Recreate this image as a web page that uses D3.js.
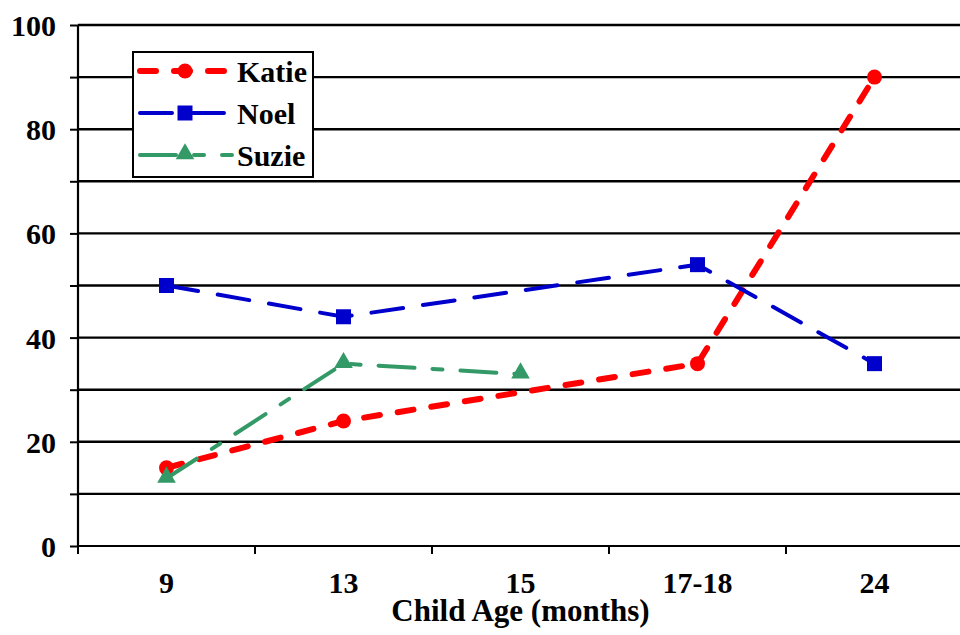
<!DOCTYPE html>
<html>
<head>
<meta charset="utf-8">
<script src="https://cdn.jsdelivr.net/npm/d3@7"></script>
<style>
  body { margin: 0; background: #fff; }
</style>
</head>
<body>
<div id="graph"></div>
<script>
var categories = ["9", "13", "15", "17-18", "24"];
var katie = [15, 24, null, 35, 90];
var noel = [50, 44, null, 54, 35];
var suzie = [13, 35, 33, null, null];
var yTicks = [0, 20, 40, 60, 80, 100];
var xTitle = "Child Age (months)";

var FONT = "'Liberation Serif'";

var series = [
  { name: "Katie", values: katie, color: "#ff0000", width: 6, dash: "16,18", marker: "circle" },
  { name: "Noel", values: noel, color: "#0000cc", width: 4, dash: "32,20", marker: "square" },
  { name: "Suzie", values: suzie, color: "#339966", width: 4, dash: "36,18,10,18", marker: "triangle" }
];

var margin = { top: 25, right: 0, bottom: 89, left: 78 };
var width = 960, height = 635;
var plotW = 885, plotH = height - margin.top - margin.bottom;

var svg = d3.select("#graph").append("svg")
    .attr("width", width)
    .attr("height", height)
  .append("g")
    .attr("transform", "translate(" + margin.left + "," + margin.top + ")");

var x = d3.scaleBand().domain(categories).range([0, plotW]);
var y = d3.scaleLinear().domain([0, 100]).range([plotH, 0]);

function styleText(sel) {
  sel.attr("font-family", null).attr("font-size", null)
    .style("font-family", FONT).style("font-weight", "bold").style("font-size", "30px").attr("fill", "#000");
}

// gridlines every 10
svg.append("g").attr("class", "grid")
  .selectAll("line")
  .data(d3.range(10, 101, 10))
  .enter().append("line")
    .attr("x1", 0).attr("x2", plotW)
    .attr("y1", function(d) { return y(d); })
    .attr("y2", function(d) { return y(d); })
    .attr("stroke", "#000").attr("stroke-width", 2.4);

// y axis with minor ticks
var yAxis = svg.append("g")
  .call(d3.axisLeft(y).tickValues(d3.range(0, 101, 10)).tickSize(8)
        .tickFormat(function(d) { return yTicks.indexOf(d) >= 0 ? d : ""; }));
yAxis.attr("font-family", null).attr("font-size", null);
yAxis.select(".domain").attr("stroke-width", 2.2).attr("d", "M0," + plotH + "V0");
yAxis.selectAll(".tick line").attr("stroke-width", 2);
yAxis.selectAll(".tick text")
  .attr("x", -22).attr("dy", "0.35em")
  .call(styleText);

// x axis
var xAxis = svg.append("g")
  .attr("transform", "translate(0," + plotH + ")")
  .call(d3.axisBottom(x).tickSize(0));
xAxis.attr("font-family", null).attr("font-size", null);
xAxis.select(".domain").attr("stroke-width", 2.2).attr("d", "M0,0H" + plotW);
xAxis.selectAll(".tick text")
  .attr("y", 47).attr("dy", 0)
  .call(styleText);
xAxis.selectAll(".bound")
  .data(d3.range(0, categories.length + 1))
  .enter().append("line")
    .attr("x1", function(i) { return i * x.step(); })
    .attr("x2", function(i) { return i * x.step(); })
    .attr("y1", 0).attr("y2", 8)
    .attr("stroke", "#000").attr("stroke-width", 2);

svg.append("text")
  .attr("x", x("15") + x.bandwidth() / 2)
  .attr("y", plotH + 75)
  .attr("text-anchor", "middle")
  .call(styleText)
  .style("font-size", "31px")
  .text(xTitle);

function drawMarker(g, type, color) {
  if (type == "circle") {
    g.append("circle").attr("r", 7.5).attr("fill", color);
  } else if (type == "square") {
    g.append("rect").attr("x", -7.5).attr("y", -7.5).attr("width", 15).attr("height", 15).attr("fill", color);
  } else {
    g.append("path").attr("d", d3.symbol().type(d3.symbolTriangle).size(150)()).attr("transform", "translate(0,-1)").attr("fill", color);
  }
}

var line = d3.line()
  .x(function(d) { return x(d.cat) + x.bandwidth() / 2; })
  .y(function(d) { return y(d.v); });

series.forEach(function(s) {
  var pts = [];
  s.values.forEach(function(v, i) { if (v != null) pts.push({ cat: categories[i], v: v }); });
  var g = svg.append("g");
  g.append("path")
    .attr("d", line(pts))
    .attr("fill", "none")
    .attr("stroke", s.color)
    .attr("stroke-width", s.width)
    .attr("stroke-dasharray", s.dash)
    .attr("stroke-linecap", "round");
  pts.forEach(function(p) {
    var m = g.append("g")
      .attr("transform", "translate(" + (x(p.cat) + x.bandwidth() / 2) + "," + y(p.v) + ")");
    drawMarker(m, s.marker, s.color);
  });
});

// legend
var legend = svg.append("g").attr("transform", "translate(" + (133 - margin.left) + "," + (52 - margin.top) + ")");
legend.append("rect")
  .attr("width", 180).attr("height", 125)
  .attr("fill", "#fff").attr("stroke", "#000").attr("stroke-width", 2);
series.forEach(function(s, i) {
  var ly = 19 + i * 42;
  var item = legend.append("g").attr("transform", "translate(0," + ly + ")");
  item.append("line")
    .attr("x1", 7).attr("x2", 99).attr("y1", 0).attr("y2", 0)
    .attr("stroke", s.color).attr("stroke-width", s.width)
    .attr("stroke-dasharray", s.dash).attr("stroke-linecap", "round");
  var m = item.append("g").attr("transform", "translate(52,0)");
  drawMarker(m, s.marker, s.color);
  item.append("text")
    .attr("x", 104).attr("y", 0).attr("dy", "0.35em")
    .call(styleText)
    .text(s.name);
});
</script>
</body>
</html>
